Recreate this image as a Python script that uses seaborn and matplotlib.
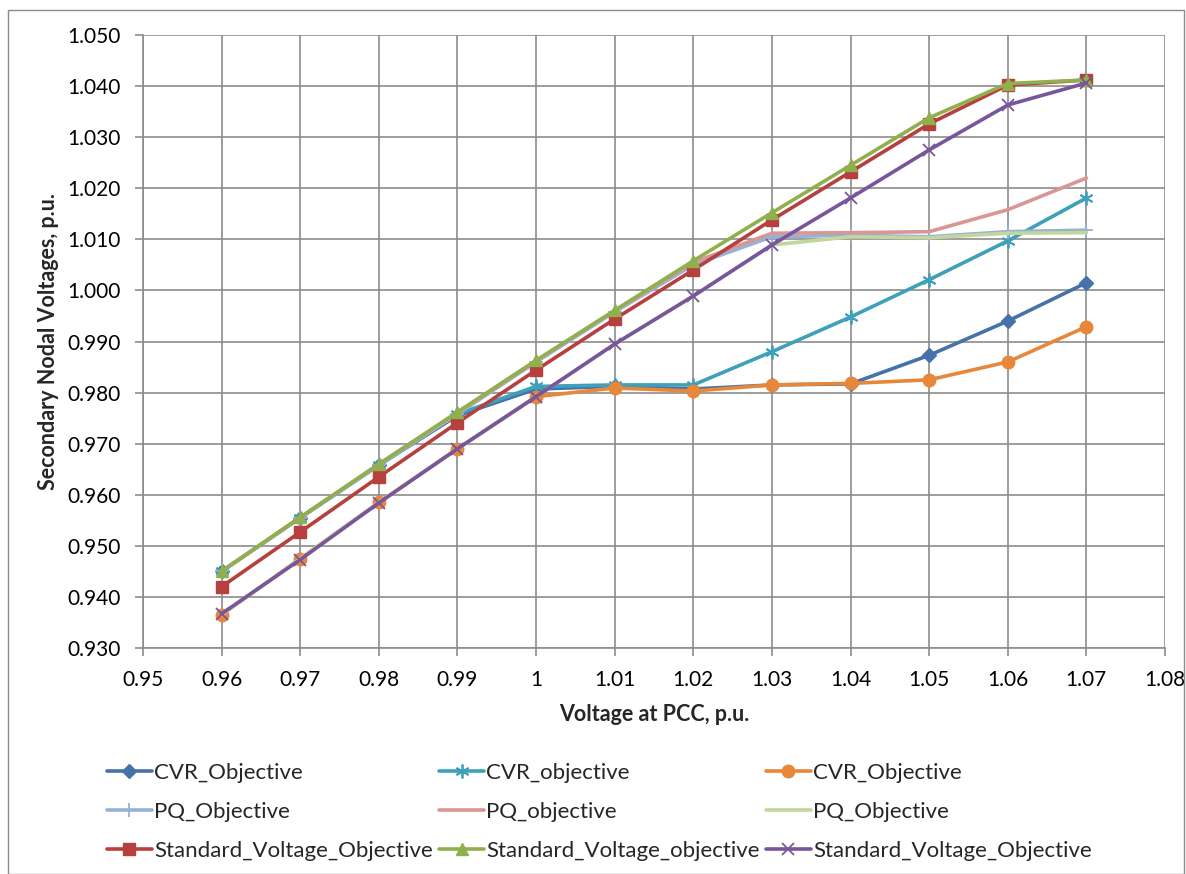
import matplotlib
matplotlib.use("Agg")
import matplotlib.pyplot as plt
import seaborn as sns
import pandas as pd
from matplotlib.patches import Rectangle

pcc_voltage = [0.96, 0.97, 0.98, 0.99, 1.00, 1.01, 1.02, 1.03, 1.04, 1.05, 1.06, 1.07]

cvr_obj_1 = [0.9450, 0.9555, 0.9658, 0.9755, 0.9807, 0.9812, 0.9807, 0.9815, 0.9817, 0.9873, 0.9940, 1.0015]
cvr_obj_2 = [0.9450, 0.9555, 0.9658, 0.9758, 0.9812, 0.9815, 0.9815, 0.9880, 0.9948, 1.0021, 1.0097, 1.0181]
cvr_obj_3 = [0.9365, 0.9475, 0.9585, 0.9690, 0.9792, 0.9809, 0.9803, 0.9815, 0.9818, 0.9825, 0.9860, 0.9929]
pq_obj_1 = [0.9450, 0.9555, 0.9658, 0.9758, 0.9860, 0.9958, 1.0050, 1.0105, 1.0108, 1.0105, 1.0115, 1.0118]
pq_obj_2 = [0.9450, 0.9555, 0.9660, 0.9760, 0.9862, 0.9960, 1.0055, 1.0112, 1.0113, 1.0115, 1.0158, 1.0220]
pq_obj_3 = [0.9365, 0.9475, 0.9585, 0.9690, 0.9792, 0.9895, 0.9989, 1.0089, 1.0105, 1.0103, 1.0112, 1.0113]
std_obj_1 = [0.9420, 0.9527, 0.9635, 0.9741, 0.9844, 0.9944, 1.0040, 1.0138, 1.0232, 1.0326, 1.0402, 1.0412]
std_obj_2 = [0.9450, 0.9556, 0.9660, 0.9762, 0.9863, 0.9961, 1.0058, 1.0152, 1.0245, 1.0338, 1.0405, 1.0412]
std_obj_3 = [0.9367, 0.9473, 0.9584, 0.9690, 0.9792, 0.9895, 0.9989, 1.0089, 1.0181, 1.0275, 1.0363, 1.0406]

series_names = ["CVR_Objective", "CVR_objective", "CVR_Objective",
                "PQ_Objective", "PQ_objective", "PQ_Objective",
                "Standard_Voltage_Objective", "Standard_Voltage_objective", "Standard_Voltage_Objective"]
series_values = [cvr_obj_1, cvr_obj_2, cvr_obj_3, pq_obj_1, pq_obj_2, pq_obj_3,
                 std_obj_1, std_obj_2, std_obj_3]

x_ticks = [0.95, 0.96, 0.97, 0.98, 0.99, 1.00, 1.01, 1.02, 1.03, 1.04, 1.05, 1.06, 1.07, 1.08]
x_tick_labels = ["0.95", "0.96", "0.97", "0.98", "0.99", "1", "1.01", "1.02", "1.03",
                 "1.04", "1.05", "1.06", "1.07", "1.08"]
y_ticks = [0.930, 0.940, 0.950, 0.960, 0.970, 0.980, 0.990, 1.000, 1.010, 1.020, 1.030, 1.040, 1.050]

colors = ["#4672AA", "#3FA0BA", "#E8873A", "#95B3D7", "#D99694", "#C3D69B",
          "#B6403D", "#8FB04C", "#77569B"]
markers = ["D", (6, 2, 0), "o", "+", None, None, "s", "^", "x"]
msizes = [7, 10, 9, 10, 0, 0, 8, 9, 9]
mew = [1, 1.3, 1, 1.3, 1, 1, 1, 1, 1.3]

sns.set_theme(style="white")
plt.rcParams["font.family"] = ["Lato", "DejaVu Sans"]

fig = plt.figure(figsize=(11.86, 8.74), dpi=100)
ax = fig.add_axes([143 / 1186, 1 - 648 / 874, (1165 - 143) / 1186, (648 - 35) / 874])

for name, vals, c, m, ms, mw in zip(series_names, series_values, colors, markers, msizes, mew):
    df = pd.DataFrame({"x": pcc_voltage, "y": vals})
    kw = dict(marker=m, markersize=ms, markeredgecolor=c, markerfacecolor=c, markeredgewidth=mw) if m is not None else {}
    sns.lineplot(data=df, x="x", y="y", ax=ax, color=c, linewidth=2.6, label=name, **kw)

ax.set_xlim(0.95, 1.08)
ax.set_ylim(0.930, 1.050)
ax.set_xticks(x_ticks)
ax.set_xticklabels(x_tick_labels)
ax.set_yticks(y_ticks)
ax.set_yticklabels([f"{v:.3f}" for v in y_ticks])
ax.grid(True, color="#8C8C8C", linewidth=1.2)
ax.set_axisbelow(True)
for s in ["top", "right"]:
    ax.spines[s].set_visible(False)
for s in ["left", "bottom"]:
    ax.spines[s].set_color("#8C8C8C")
    ax.spines[s].set_linewidth(1.2)
ax.tick_params(axis="both", direction="out", length=6, width=1.2, color="#8C8C8C",
               labelsize=15, labelcolor="black", left=True, bottom=True)
ax.tick_params(axis="x", pad=10)
ax.tick_params(axis="y", pad=10)
ax.set_xlabel("Voltage at PCC, p.u.", fontsize=15.5, fontweight="bold", labelpad=10)
ax.set_ylabel("Secondary Nodal Voltages, p.u.", fontsize=15.5, fontweight="bold", labelpad=6)

h, l = ax.get_legend_handles_labels()
order = [0, 3, 6, 1, 4, 7, 2, 5, 8]
ax.legend([h[i] for i in order], [l[i] for i in order], ncol=3, loc="upper left",
          bbox_to_anchor=(-0.035, -0.188), frameon=False, fontsize=16,
          handlelength=2.0, handletextpad=0.1, columnspacing=0.3, labelspacing=0.85,
          borderaxespad=0, borderpad=0)

fig.patches.append(Rectangle((8 / 1186, 0.0), 1 - 8 / 1186 - 2 / 1186, 1 - 10 / 874,
                             transform=fig.transFigure, fill=False, edgecolor="#8C8C8C",
                             linewidth=1.0))

fig.savefig("out.png", dpi=100)
